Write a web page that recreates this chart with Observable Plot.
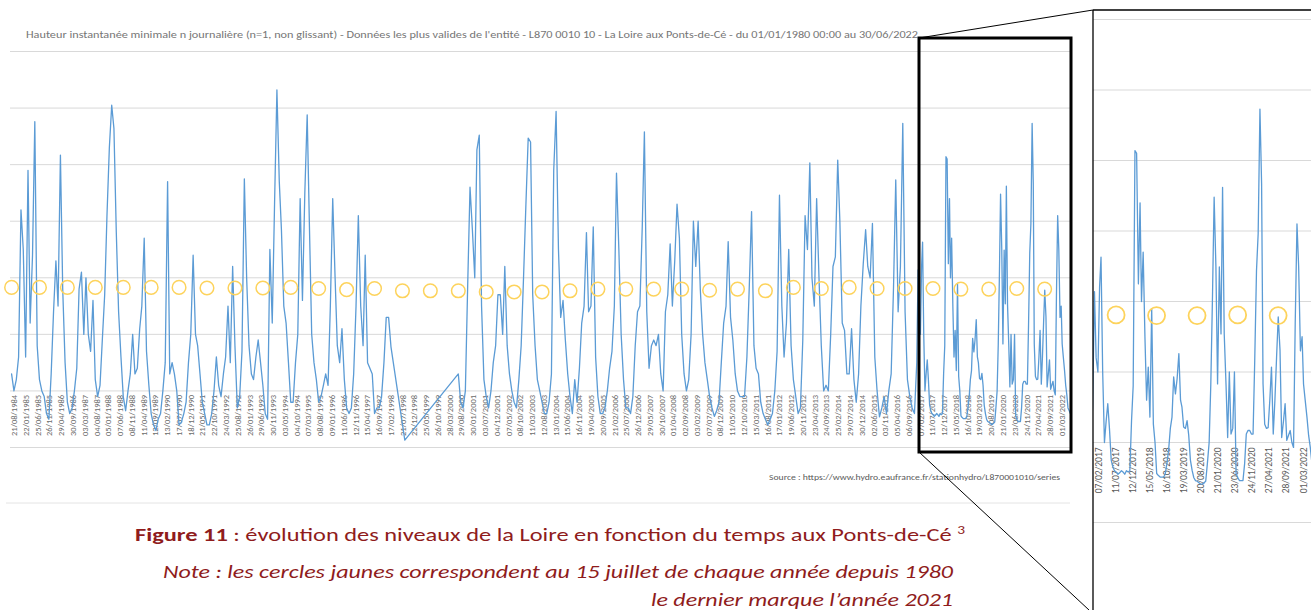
<!DOCTYPE html>
<html>
<head>
<meta charset="utf-8">
<script src="https://cdn.jsdelivr.net/npm/d3@7"></script>
<script src="https://cdn.jsdelivr.net/npm/@observablehq/plot@0.6"></script>
<style>
  html, body { margin: 0; padding: 0; background: #fff; }
  #page { position: relative; width: 1311px; height: 610px; overflow: hidden; background: #fff; }
  #main { position: absolute; left: 0; top: 0; }
  #inset { position: absolute; left: 1093px; top: 0; }
  #overlay { position: absolute; left: 0; top: 0; pointer-events: none; }
  svg { overflow: hidden; }
</style>
</head>
<body>
<div id="page">
  <div id="main"></div>
  <div id="inset"></div>
  <svg id="overlay" width="1311" height="610" xmlns="http://www.w3.org/2000/svg"></svg>
</div>
<script>
// ---------- DATA (levels in metres; 12 values = monthly Jan..Dec, 24 values = twice a month; null = no data) ----------
const lv1984 = [null, null, null, null, null, null, 0.3, 0.0, 0.2, 0.6, 3.2, 2.5];
const lv1985 = [0.6, 3.9, 1.2, 2.4, 4.76, 0.8, 0.2, 0.0, -0.1, -0.4, -0.5, 0.3];
const lv1986 = [1.4, 2.3, 1.5, 4.17, 1.8, 0.5, -0.2, -0.4, -0.3, 0.0, 0.4, 1.8];
const lv1987 = [2.1, 1.0, 2.0, 1.0, 0.7, 1.6, 0.2, -0.1, 0.1, 0.9, 1.7, 3.1];
const lv1988 = [4.3, 5.05, 4.64, 2.8, 1.4, 0.6, -0.1, -0.35, 0.0, 0.3, 1.0, 0.3];
const lv1989 = [0.4, 1.1, 1.5, 2.7, 0.7, 0.1, -0.4, -0.6, -0.7, -0.5, -0.4, 0.0];
const lv1990 = [0.5, 3.7, 0.3, 0.5, 0.3, 0.0, -0.6, -0.55, -0.4, -0.2, 0.5, 1.0];
const lv1991 = [2.4, 1.0, 0.8, 0.3, -0.2, -0.4, -0.6, -0.6, -0.4, 0.0, 0.6, 0.1];
const lv1992 = [-0.1, 0.3, 0.6, 1.5, 0.5, 2.2, 0.8, -0.3, -0.1, 0.7, 3.75, 2.0];
const lv1993 = [0.8, 0.3, 0.2, 0.6, 0.9, 0.5, 0.1, -0.4, -0.5, 2.5, 1.2, 3.3];
const lv1994 = [5.32, 3.7, 2.85, 1.5, 1.2, 0.5, -0.2, -0.2, 0.5, 1.0, 3.4, 1.6];
const lv1995 = [3.5, 4.88, 3.0, 1.0, 0.5, 0.2, -0.2, -0.1, 0.1, 0.3, 0.1, 1.5];
const lv1996 = [3.4, 2.0, 0.8, 0.5, 1.1, 0.2, -0.3, -0.4, -0.3, 0.3, 1.5, 3.1];
const lv1997 = [1.5, 0.8, 2.4, 0.5, 0.4, 0.3, -0.4, -0.3, -0.3, -0.1, 0.5, 1.3];
const lv1998 = [1.3, 0.78, null, null, null, null, null, -0.87, null, null, null, null];
const lv1999 = [null, null, null, null, null, null, null, null, null, null, null, null];
const lv2000 = [null, null, null, null, null, null, 0.3, -0.2, -0.3, 0.0, 1.9, 3.6];
const lv2001 = [2.85, 2.0, 4.26, 4.52, 1.5, 0.2, -0.1, -0.3, 0.0, 0.5, 0.8, 1.7];
const lv2002 = [1.7, 1.0, 2.2, 0.8, 0.3, 0.0, -0.2, -0.3, 0.2, 0.8, 2.0, 3.25];
const lv2003 = [4.47, 4.4, 1.7, 0.8, 0.2, 0.0, -0.2, -0.4, -0.4, -0.2, 0.3, 3.9];
const lv2004 = [4.94, 2.5, 1.3, 1.6, 0.9, 0.3, -0.1, -0.4, 0.2, -0.2, 0.4, 1.2];
const lv2005 = [1.5, 2.8, 1.4, 1.5, 2.9, 0.6, -0.1, -0.4, -0.4, -0.3, 0.0, 0.4];
const lv2006 = [0.7, 1.5, 3.85, 2.5, 1.0, 0.2, -0.3, -0.3, -0.4, -0.1, 0.8, 1.4];
const lv2007 = [1.5, 2.9, 4.58, 1.4, 0.4, 0.8, 0.9, 0.8, 1.0, 0.3, 0.0, 1.4];
const lv2008 = [1.7, 2.6, 1.5, 2.3, 3.3, 2.7, 1.0, 0.3, 0.0, 0.2, 1.0, 3.0];
const lv2009 = [2.2, 3.0, 1.8, 1.0, 0.5, 0.2, -0.1, -0.3, -0.45, -0.35, -0.2, 0.5];
const lv2010 = [1.2, 1.5, 2.64, 1.3, 0.9, 0.3, 0.0, -0.1, -0.1, -0.1, 0.6, 1.8];
const lv2011 = [3.17, 0.8, 0.4, 0.3, -0.2, -0.4, -0.5, -0.6, -0.5, -0.4, 0.0, 0.7];
const lv2012 = [3.46, 1.5, 0.6, 1.2, 2.5, 0.8, 0.2, -0.1, -0.4, -0.3, 0.9, 3.1];
const lv2013 = [2.5, 4.03, 2.0, 1.5, 3.4, 2.0, 0.8, 0.0, 0.1, 0.0, 1.0, 2.2];
const lv2014 = [2.37, 4.08, 3.0, 1.2, 1.07, 0.3, 0.3, 1.1, 0.2, -0.2, 0.3, 1.5];
const lv2015 = [2.25, 2.85, 2.2, 2.0, 2.96, 0.6, 0.0, -0.46, -0.3, -0.1, -0.4, 0.0];
const lv2016 = [0.3, 1.84, 3.73, 1.4, 2.2, 4.73, 1.4, 0.2, -0.1, -0.3, -0.4, 0.5];
// 2017-2022 read at twice-a-month resolution from the magnified inset
const lv2017 = [2.14, 1.2, 1.0, 2.2, 2.63, 1.0, 0.0, 0.3, 0.55, 0.2, -0.25, -0.35,
                -0.4, -0.42, -0.45, -0.43, -0.4, -0.42, -0.45, -0.4, -0.42, -0.4, 0.3, 0.8];
const lv2018 = [4.14, 4.1, 2.25, 3.4, 2.0, 2.7, 1.5, 0.6, 1.07, 0.36, 1.9, 0.26,
                0.0, -0.44, -0.47, -0.49, -0.49, -0.49, -0.45, -0.3, -0.1, 0.2, 0.36, 0.93];
const lv2019 = [0.69, 0.9, 1.26, 0.6, 0.5, 0.22, 0.2, 0.31, 0.1, -0.25, -0.4, -0.5,
                -0.54, -0.55, -0.57, -0.59, -0.59, -0.57, -0.55, -0.3, 0.0, 0.83, 2.06, 3.48];
const lv2020 = [2.49, 0.83, 2.49, 1.54, 3.62, 1.54, 0.83, 0.07, 1.0, 0.12, 0.2, 1.0,
                -0.44, -0.5, -0.54, -0.54, -0.54, -0.3, 0.12, 0.17, 0.17, 0.12, 0.12, 1.16];
const lv2021 = [2.44, 2.96, 4.73, 3.67, 0.83, 0.26, 0.2, 0.21, 0.6, 1.07, 0.12, 0.6,
                1.21, 1.78, 1.31, 0.07, 0.3, 0.55, 0.03, 0.1, 0.17, 0.0, -0.07, 1.68];
const lv2022 = [3.1, 2.5, 1.3, 1.5, 0.83, 0.6, 0.36, 0.1, -0.07, -0.3, -0.35, -0.4,
                null, null, null, null, null, null, null, null, null, null, null, null];

const levelYears = [1984,1985,1986,1987,1988,1989,1990,1991,1992,1993,1994,1995,1996,1997,1998,1999,2000,
  2001,2002,2003,2004,2005,2006,2007,2008,2009,2010,2011,2012,2013,2014,2015,2016,2017,2018,2019,2020,2021,2022];
const levelArrays = [lv1984,lv1985,lv1986,lv1987,lv1988,lv1989,lv1990,lv1991,lv1992,lv1993,lv1994,lv1995,lv1996,
  lv1997,lv1998,lv1999,lv2000,lv2001,lv2002,lv2003,lv2004,lv2005,lv2006,lv2007,lv2008,lv2009,lv2010,lv2011,
  lv2012,lv2013,lv2014,lv2015,lv2016,lv2017,lv2018,lv2019,lv2020,lv2021,lv2022];

// yellow circles: 15 July of each year, level at which they are drawn
const circleYears = [1984,1985,1986,1987,1988,1989,1990,1991,1992,1993,1994,1995,1996,1997,1998,1999,2000,
  2001,2002,2003,2004,2005,2006,2007,2008,2009,2010,2011,2012,2013,2014,2015,2016,2017,2018,2019,2020,2021];
const circleLevels = [1.83,1.83,1.83,1.83,1.83,1.83,1.83,1.82,1.82,1.82,1.83,1.81,1.79,1.81,1.77,1.77,1.77,
  1.75,1.75,1.75,1.77,1.80,1.80,1.80,1.80,1.78,1.80,1.77,1.83,1.81,1.83,1.81,1.81,1.81,1.80,1.80,1.81,1.80];

// gridlines (metres)
const gridLevels = [-1, 0, 1, 2, 3, 4, 5, 6];
const insetGridLevels = [0, 1, 2, 3, 4, 5, 6];

// category labels of the date axis: every 154 days from 21/08/1984
const tickStart = "1984-08-21";
const tickStepDays = 154;
const tickCount = 90;

// texts
const titleText = "Hauteur instantanée minimale n journalière (n=1, non glissant) - Données les plus valides de l'entité - L870 0010 10 - La Loire aux Ponts-de-Cé - du 01/01/1980 00:00 au 30/06/2022";
const sourceText = "Source : https://www.hydro.eaufrance.fr/stationhydro/L870001010/series";
const figLabel = "Figure 11";
const figText = " : évolution des niveaux de la Loire en fonction du temps aux Ponts-de-Cé ";
const figSup = "3";
const noteText1 = "Note : les cercles jaunes correspondent au 15 juillet de chaque année depuis 1980";
const noteText2 = "le dernier marque l’année 2021";

// ---------- BUILD ----------
const series = [];
levelYears.forEach((yr, k) => {
  const arr = levelArrays[k];
  arr.forEach((v, i) => {
    if (v == null) return;
    const date = arr.length === 12
      ? new Date(Date.UTC(yr, i, 15))
      : new Date(Date.UTC(yr, Math.floor(i / 2), i % 2 === 0 ? 1 : 16));
    series.push({date, level: v});
  });
});
const circles = circleYears.map((yr, i) => ({date: new Date(Date.UTC(yr, 6, 15)), level: circleLevels[i]}));
const t0 = new Date(tickStart + "T00:00:00Z").getTime();
const ticks = d3.range(tickCount).map(k => new Date(t0 + k * tickStepDays * 864e5));
const fmt = d3.utcFormat("%d/%m/%Y");
const dec = t => { const y = Math.floor(t); const a = Date.UTC(y,0,1), b = Date.UTC(y+1,0,1); return new Date(a + (t - y) * (b - a)); };

const FONT = "Carlito, Calibri, 'Liberation Sans', Arial, sans-serif";
const LINE = "#5b9bd5";
const CIRCLE = "#fdd35c";

const main = Plot.plot({
  width: 1090, height: 520,
  marginLeft: 10, marginRight: 19, marginTop: 51, marginBottom: 73,
  style: {background: "transparent", fontFamily: FONT},
  x: {type: "utc", domain: [new Date(Date.UTC(1984,6,1)), new Date(Date.UTC(2022,6,1))], axis: null},
  y: {domain: [-1, 6], axis: null},
  marks: [
    Plot.ruleY(gridLevels, {stroke: "#d9d9d9", strokeWidth: 1}),
    Plot.text(ticks, {x: d => d, y: d => 0, text: d => fmt(d), rotate: -90, textAnchor: "end", dy: 4,
      fontSize: 8.5, fill: "#6b6b6b"}),
    Plot.line(series, {x: "date", y: "level", stroke: LINE, strokeWidth: 1.3}),
    Plot.dot(circles, {x: "date", y: "level", r: 6.8, stroke: CIRCLE, strokeWidth: 1.5, fill: "none"})
  ]
});
document.getElementById("main").appendChild(main);

const insetPxPerYear = 40.5;
const insetStartYear = 2016.976;
const insetStart = dec(insetStartYear), insetEnd = dec(insetStartYear + 218 / insetPxPerYear);
const insetTicks = ticks.filter(d => d >= new Date(Date.UTC(2017,0,20)));
const insetSeries = series.filter(d => d.date >= new Date(Date.UTC(2016,10,1)));
const insetCircles = circles.filter(d => d.date >= new Date(Date.UTC(2017,0,1)));
const insetYMin = -1.135;
const inset = Plot.plot({
  width: 218, height: 610,
  marginLeft: 0, marginRight: 0, marginTop: 19, marginBottom: 88,
  style: {background: "transparent", fontFamily: FONT},
  x: {type: "utc", domain: [insetStart, insetEnd], axis: null},
  y: {domain: [insetYMin, 6], axis: null},
  marks: [
    Plot.ruleY(insetGridLevels, {stroke: "#d9d9d9", strokeWidth: 1.2}),
    Plot.ruleY([insetYMin], {stroke: "#d9d9d9", strokeWidth: 1.2}),
    Plot.text(insetTicks, {x: d => d, y: d => 0, text: d => fmt(d), rotate: -90, textAnchor: "end", dy: 5,
      fontSize: 9.5, fill: "#595959"}),
    Plot.line(insetSeries, {x: "date", y: "level", stroke: LINE, strokeWidth: 1.3, clip: true}),
    Plot.dot(insetCircles, {x: "date", y: "level", r: 8.5, stroke: CIRCLE, strokeWidth: 1.8, fill: "none"})
  ]
});
document.getElementById("inset").appendChild(inset);

// ---------- OVERLAY (titles, zoom box, captions) ----------
const ov = d3.select("#overlay");
ov.append("text").attr("x", 26).attr("y", 37.5).attr("font-family", FONT).attr("font-size", 11)
  .attr("fill", "#767676").attr("textLength", 892).attr("lengthAdjust", "spacingAndGlyphs").text(titleText);
ov.append("text").attr("x", 769).attr("y", 480).attr("font-family", FONT).attr("font-size", 8)
  .attr("fill", "#595959").attr("textLength", 291).attr("lengthAdjust", "spacingAndGlyphs").text(sourceText);
ov.append("line").attr("x1", 6).attr("x2", 1070).attr("y1", 503).attr("y2", 503).attr("stroke", "#e4e4e4");

// zoom rectangle and connectors
ov.append("rect").attr("x", 919).attr("y", 38).attr("width", 152).attr("height", 414)
  .attr("fill", "none").attr("stroke", "#000").attr("stroke-width", 3);
ov.append("line").attr("x1", 919).attr("y1", 38).attr("x2", 1093).attr("y2", 10).attr("stroke", "#000").attr("stroke-width", 1);
ov.append("line").attr("x1", 919).attr("y1", 452).attr("x2", 1089).attr("y2", 610).attr("stroke", "#000").attr("stroke-width", 1);
ov.append("line").attr("x1", 1093).attr("y1", 10).attr("x2", 1311).attr("y2", 10).attr("stroke", "#000").attr("stroke-width", 1.3);
ov.append("line").attr("x1", 1093).attr("y1", 10).attr("x2", 1093).attr("y2", 610).attr("stroke", "#000").attr("stroke-width", 1.3);

// caption
const RED = "#8f1c1c";
const cap1 = ov.append("text").attr("x", 135).attr("y", 541).attr("font-family", FONT).attr("font-size", 19)
  .attr("fill", RED).attr("textLength", 830).attr("lengthAdjust", "spacingAndGlyphs");
cap1.append("tspan").attr("font-weight", "bold").text(figLabel);
cap1.append("tspan").text(figText);
cap1.append("tspan").attr("font-size", 12).attr("dy", -7).text(figSup);
ov.append("text").attr("x", 163).attr("y", 578).attr("font-family", FONT).attr("font-size", 19)
  .attr("font-style", "italic").attr("fill", RED).attr("textLength", 790).attr("lengthAdjust", "spacingAndGlyphs").text(noteText1);
ov.append("text").attr("x", 651).attr("y", 606).attr("font-family", FONT).attr("font-size", 19)
  .attr("font-style", "italic").attr("fill", RED).attr("textLength", 302).attr("lengthAdjust", "spacingAndGlyphs").text(noteText2);
</script>
</body>
</html>
